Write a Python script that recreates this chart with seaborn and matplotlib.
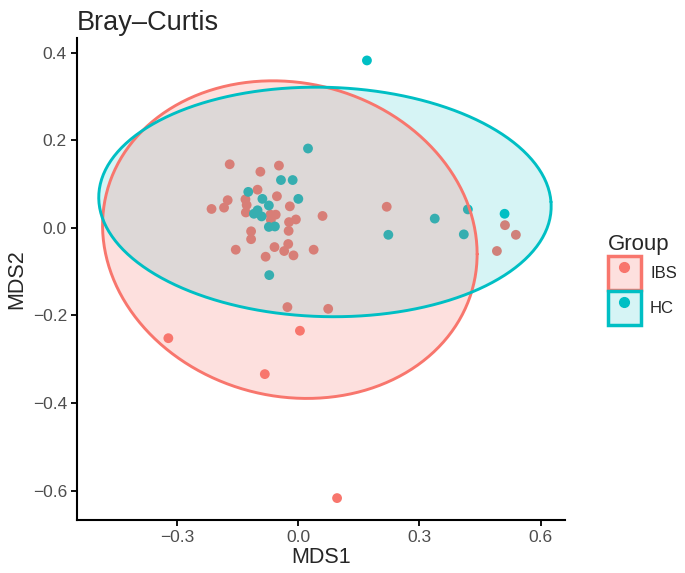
import numpy as np
import pandas as pd
import matplotlib
matplotlib.use("Agg")
import matplotlib.pyplot as plt
import seaborn as sns
from matplotlib.patches import Patch
from matplotlib.lines import Line2D
from matplotlib.colors import to_rgba

# NMDS scores
ibs_x = [-0.170, -0.094, -0.048, -0.101, -0.053, -0.175, -0.184, -0.215, -0.131, -0.128,
         -0.130, -0.021, -0.069, -0.056, -0.068, -0.023, -0.006, 0.060, -0.024, -0.117,
         -0.117, -0.155, -0.059, -0.025, -0.035, -0.081, -0.012, 0.038, 0.219, 0.512,
         0.539, 0.492, -0.027, 0.074, 0.004, -0.322, -0.083, 0.096]
ibs_y = [0.145, 0.128, 0.142, 0.087, 0.072, 0.063, 0.046, 0.043, 0.065, 0.052,
         0.035, 0.049, 0.030, 0.030, 0.018, 0.013, 0.019, 0.027, -0.007, -0.008,
         -0.026, -0.050, -0.044, -0.037, -0.053, -0.066, -0.063, -0.050, 0.048, 0.006,
         -0.016, -0.053, -0.181, -0.185, -0.235, -0.252, -0.334, -0.617]
hc_x = [0.024, -0.043, -0.014, -0.124, -0.089, 0.000, -0.073, -0.101, -0.110, -0.091,
        -0.073, -0.058, -0.072, 0.338, 0.223, 0.420, 0.410, 0.511, 0.170]
hc_y = [0.181, 0.109, 0.109, 0.082, 0.066, 0.066, 0.051, 0.040, 0.032, 0.026,
        0.002, 0.003, -0.108, 0.021, -0.016, 0.042, -0.015, 0.032, 0.382]

groups = ["IBS", "HC"]
colors = ["#F8766D", "#00BFC4"]
fill_alpha = [0.22, 0.16]

# 95% ellipses (center, radii, shear)
ell_center = [(-0.021, -0.027), (0.066, 0.059)]
ell_radius = [(0.464, 0.361), (0.560, 0.262)]
ell_shear = [(0.0, -0.033), (-0.022, 0.0)]

x_ticks = [-0.3, 0.0, 0.3, 0.6]
x_labels = ["\u22120.3", "0.0", "0.3", "0.6"]
y_ticks = [-0.6, -0.4, -0.2, 0.0, 0.2, 0.4]
y_labels = ["\u22120.6", "\u22120.4", "\u22120.2", "0.0", "0.2", "0.4"]

df = pd.DataFrame({
    "MDS1": ibs_x + hc_x,
    "MDS2": ibs_y + hc_y,
    "Group": ["IBS"] * len(ibs_x) + ["HC"] * len(hc_x),
})

sns.set_theme(style="ticks")
plt.rcParams["font.family"] = ["Liberation Sans", "DejaVu Sans"]

fig = plt.figure(figsize=(6.85, 5.73), dpi=100)
ax = fig.add_axes([0.112, 0.0925, 0.713, 0.841])

sns.scatterplot(data=df, x="MDS1", y="MDS2", hue="Group", hue_order=groups,
                palette=colors, s=50, edgecolor="none", legend=False, ax=ax, zorder=2)

t = np.linspace(0, 2 * np.pi, 300)
curves = []
for (cx, cy), (rx, ry), (kx, ky) in zip(ell_center, ell_radius, ell_shear):
    curves.append((cx + rx * np.cos(t) + kx * np.sin(t),
                   cy + ry * np.sin(t) + ky * np.cos(t)))
# teal fill underneath, salmon fill on top, then the outlines
for i in [1, 0]:
    ax.fill(*curves[i], facecolor=to_rgba(colors[i], fill_alpha[i]), edgecolor="none", zorder=3)
for i in [0, 1]:
    ax.plot(*curves[i], color=colors[i], linewidth=2.1, zorder=4)

ax.set_xlim(-0.549, 0.661)
ax.set_ylim(-0.667, 0.433)
ax.set_xticks(x_ticks, x_labels)
ax.set_yticks(y_ticks, y_labels)
ax.tick_params(labelsize=12.5, labelcolor="#4D4D4D", length=4, width=1.3, color="black", pad=3)
for s in ["top", "right"]:
    ax.spines[s].set_visible(False)
for s in ["left", "bottom"]:
    ax.spines[s].set_linewidth(1.5)
    ax.spines[s].set_color("black")
ax.set_xlabel("MDS1", fontsize=15.5, labelpad=2)
ax.set_ylabel("MDS2", fontsize=15.5, labelpad=4)
ax.set_title("Bray\u2013Curtis", fontsize=19.5, loc="left", pad=6)

handles = []
for c, a in zip(colors, fill_alpha):
    handles.append((Patch(facecolor=to_rgba(c, a), edgecolor=c, linewidth=2.5),
                    Line2D([], [], marker="o", color=c, linestyle="none", markersize=7)))
fig.legend(handles, groups, title="Group", loc="upper left", bbox_to_anchor=(0.887, 0.592),
           frameon=False, fontsize=12, title_fontsize=16, handlelength=2.0, handleheight=2.8,
           labelspacing=0.05, handletextpad=0.55, borderpad=0, borderaxespad=0,
           alignment="left")

fig.savefig("out.png", dpi=100)
